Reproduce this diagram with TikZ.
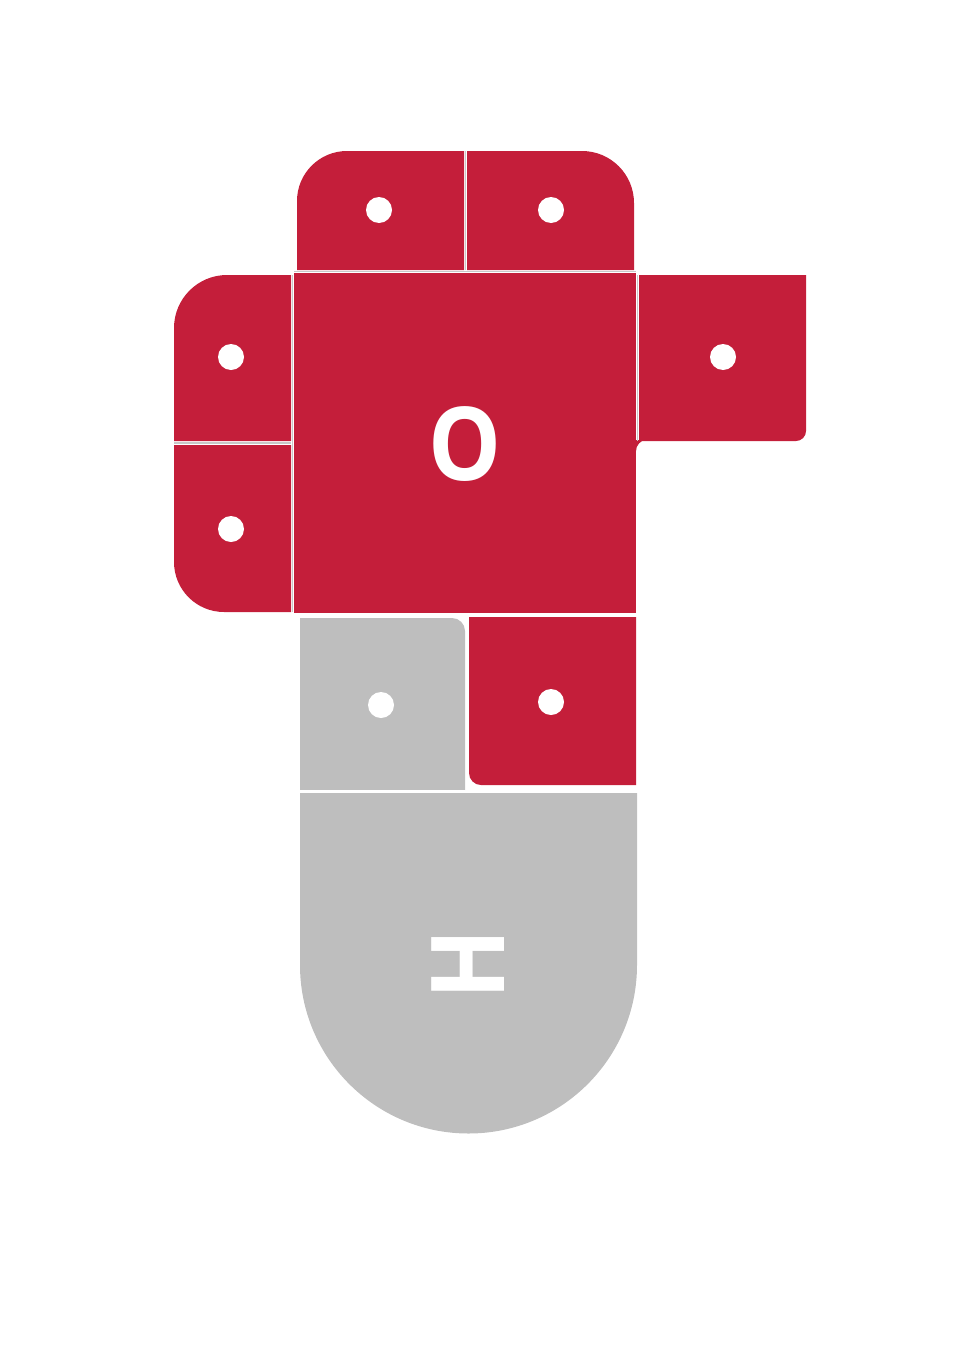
\documentclass[tikz,border=0pt]{standalone}
\usepackage{fontspec}
\setmainfont{Open Sans}
\definecolor{tilered}{RGB}{196,30,58}
\definecolor{tilegray}{RGB}{190,190,190}
\definecolor{sepgray}{RGB}{200,200,200}
\begin{document}
\begin{tikzpicture}[x=1pt,y=-1pt,
  redtile/.style={fill=tilered, draw=none},
  graytile/.style={fill=tilegray, draw=none},
  sepline/.style={draw=sepgray, line width=1.4pt},
  dotmark/.style={circle, fill=white, draw=none, minimum size=26pt, inner sep=0pt},
  lbl/.style={text=white, font=\fontsize{102}{102}\selectfont\bfseries, inner sep=0pt}]
\useasboundingbox (0,0) rectangle (958,1346);

% gray shapes
\path[graytile] (300,793) -- (637,793) -- (637,965) arc[start angle=0, end angle=180, radius=168.5] -- cycle;
\path[graytile] (300,790) -- (300,618) [rounded corners=13pt] -- (465,618) [sharp corners] -- (465,790) -- cycle;
\draw[white, line width=3pt] (300,791.5) -- (465,791.5);

% red tiles
\path[redtile] (297,270) [rounded corners=50pt] -- (297,151) [sharp corners] -- (464,151) -- (464,270) -- cycle;
\path[redtile] (467,270) -- (467,151) [rounded corners=52pt] -- (634,151) [sharp corners] -- (634,270) -- cycle;
\path[redtile] (294,273) rectangle (636,613);
\path[redtile] (291,441) -- (174,441) [rounded corners=53pt] -- (174,275) [sharp corners] -- (291,275) -- cycle;
\path[redtile] (291,445) -- (174,445) [rounded corners=50pt] -- (174,612) [sharp corners] -- (291,612) -- cycle;
\path[redtile] (639,275) -- (806,275) [rounded corners=10pt] -- (806,441) [sharp corners] -- (639,441) -- cycle;
\path[redtile] (636,440) -- (646,440) .. controls (640.5,440) and (636,445.5) .. (636,451) -- cycle;
\path[redtile] (469,617) -- (636,617) -- (636,785) [rounded corners=12pt] -- (469,785) [sharp corners] -- cycle;

% separators
\draw[sepline] (465.5,151) -- (465.5,270);
\draw[sepline] (294,271.5) -- (636,271.5);
\draw[sepline] (292.5,275) -- (292.5,612);
\draw[sepline] (174,443) -- (291,443);
\draw[sepline] (637.5,275) -- (637.5,441);

% dots
\node[dotmark] (d1) at (379,210) {};
\node[dotmark] (d2) at (551,210) {};
\node[dotmark] (d3) at (231,357) {};
\node[dotmark] (d4) at (231,529) {};
\node[dotmark] (d5) at (723,357) {};
\node[dotmark] (d6) at (551,702) {};
\node[dotmark] (d7) at (381,705) {};

% labels
\node[lbl, xscale=0.9] (o) at (465,444) {O};
\node[lbl, rotate=90] (h) at (468,964) {\scalebox{0.9}[1]{H}};
\end{tikzpicture}
\end{document}
